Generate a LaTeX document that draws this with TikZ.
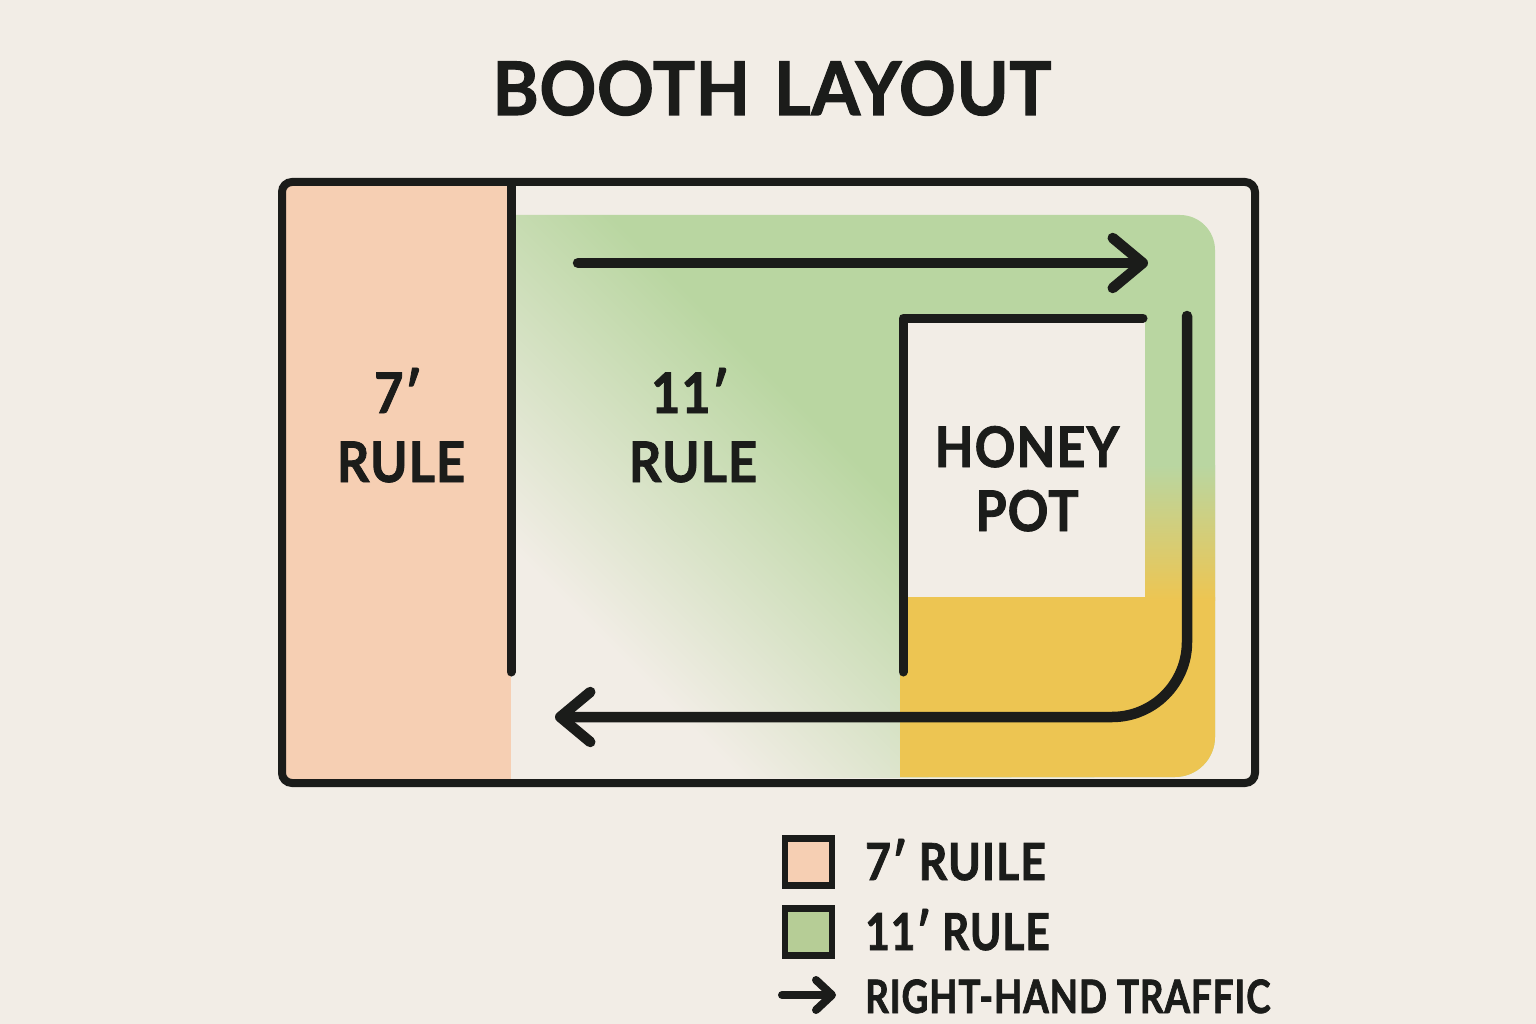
\documentclass[tikz,border=0pt]{standalone}
\usepackage{fontspec}
\setmainfont{Lato}
\usepackage{tikz}
\usetikzlibrary{arrows.meta}
\usepackage{xcolor}

\definecolor{paper}{HTML}{F2EDE6}
\definecolor{ink}{HTML}{1B1C1A}
\definecolor{peach}{HTML}{F6CFB3}
\definecolor{grass}{HTML}{B9D6A1}
\definecolor{keygrass}{HTML}{B6CD96}
\definecolor{honey}{HTML}{EDC552}
\pgfdeclarehorizontalshading{greenfade}{100bp}{color(0bp)=(paper); color(45.5bp)=(paper); color(54bp)=(grass); color(100bp)=(grass)}

\begin{document}
\begin{tikzpicture}[x=1pt, y=-1pt,
  wall/.style={draw=ink, line width=9pt, line cap=round, line join=round},
  flow/.style={draw=ink, line width=10.5pt, line cap=round, line join=round,
    -{Straight Barb[length=30pt, width=50pt, round]}},
  keyflow/.style={draw=ink, line width=8pt, line cap=round,
    -{Straight Barb[length=16pt, width=30pt, round]}},
  zone/.style={text=ink, font=\bfseries\fontsize{56}{56}\selectfont\addfontfeatures{FakeStretch=0.9,FakeBold=1.5,LetterSpace=2}, inner sep=0pt, anchor=base},
  key/.style={text=ink, font=\bfseries\fontsize{51}{51}\selectfont\addfontfeatures{FakeStretch=0.87,FakeBold=1.5,LetterSpace=2}, inner sep=0pt, anchor=base west},
  keybox/.style={draw=ink, line width=6.5pt, minimum size=47pt, inner sep=0pt}]

% -------------------------
% Page
% -------------------------
\fill[paper] (0,0) rectangle (1536,1024);
\useasboundingbox (0,0) rectangle (1536,1024);

\node[text=ink, font=\bfseries\fontsize{74}{74}\selectfont\addfontfeatures{FakeStretch=0.95,FakeBold=1.5,LetterSpace=1}, inner sep=0pt, anchor=base] (title) at (772,115) {BOOTH\hspace{24pt}LAYOUT};

% -------------------------
% Zones
% -------------------------
\fill[peach] (286,186) rectangle (511,779);

\begin{scope}
\clip (511,779) -- (511,215) -- (1180,215) arc[start angle=-90, end angle=0, radius=35] -- (1215,737) arc[start angle=0, end angle=90, radius=40] -- cycle;
\shade[shading=greenfade, transform canvas={rotate around={45:(818,626)}}] (-82,-274) rectangle (1718,1526);
\end{scope}

\fill[honey] (900,597) -- (1215,597) -- (1215,737) arc[start angle=0, end angle=90, radius=40] -- (900,777) -- cycle;
\shade[top color=grass, bottom color=honey] (1145,465) rectangle (1215,600);
\fill[paper] (903,318) rectangle (1145,597);

% -------------------------
% Walls
% -------------------------
\draw[draw=ink, line width=8pt, rounded corners=10pt] (282,182) rectangle (1255,783);
\draw[wall] (511,185) -- (511,672);
\draw[wall] (1143,318) -- (903,318) -- (903,672);

% -------------------------
% Traffic flow
% -------------------------
\coordinate (inStart) at (578,263);
\coordinate (inEnd) at (1148,263);
\coordinate (outStart) at (1187,316);
\coordinate (outTurn) at (1187,717);
\coordinate (outEnd) at (555,717);
\draw[flow] (inStart) -- (inEnd);
\draw[flow, rounded corners=75pt] (outStart) -- (outTurn) -- (outEnd);

% -------------------------
% Zone labels
% -------------------------
\node[zone] (sevenNum) at (398,413) {7′};
\node[zone] (sevenTxt) at (401,482) {RULE};
\node[zone] (elevenNum) at (690,413) {11′};
\node[zone] (elevenTxt) at (693,482) {RULE};
\node[zone] (honeyTxt) at (1027,467) {HONEY};
\node[zone] (potTxt) at (1027,531) {POT};

% -------------------------
% Legend
% -------------------------
\node[keybox, fill=peach] (keyBoxA) at (808.5,862) {};
\node[keybox, fill=keygrass] (keyBoxB) at (808.5,932) {};
\coordinate (keyArrowA) at (782,995);
\coordinate (keyArrowB) at (836,995);
\draw[keyflow] (keyArrowA) -- (keyArrowB);

\node[key] (keySeven) at (865,880) {7′ RUILE};
\node[key, font=\bfseries\fontsize{51}{51}\selectfont\addfontfeatures{FakeStretch=0.83,FakeBold=1.5,LetterSpace=2}] (keyEleven) at (865,950) {11′ RULE};
\node[key, font=\bfseries\fontsize{46}{46}\selectfont\addfontfeatures{FakeStretch=0.8,FakeBold=1.5,LetterSpace=2}] (keyFlow) at (865,1013) {RIGHT-HAND TRAFFIC};

\end{tikzpicture}
\end{document}
